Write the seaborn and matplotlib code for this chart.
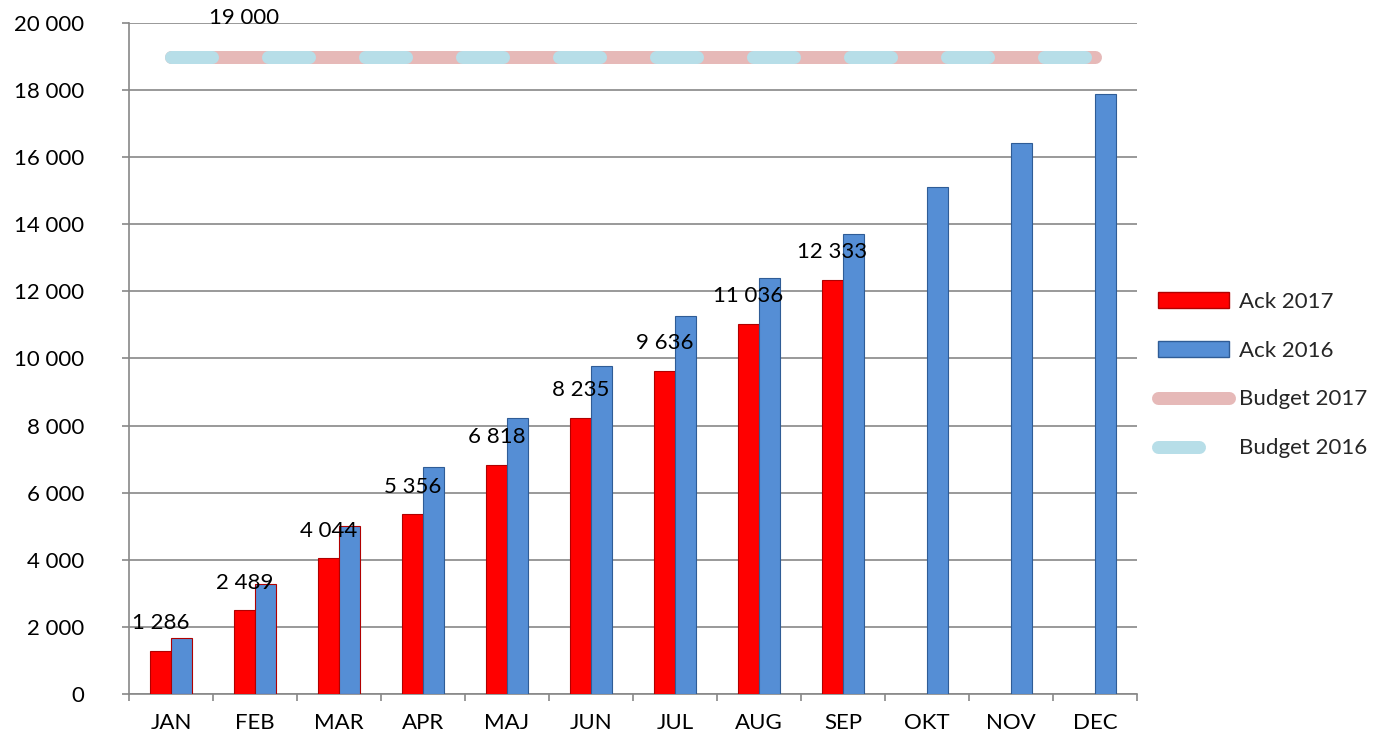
import numpy as np
import pandas as pd
import matplotlib
matplotlib.use("Agg")
import matplotlib.pyplot as plt
import seaborn as sns
from matplotlib.ticker import FuncFormatter, FixedLocator
from matplotlib.patches import Patch
from matplotlib.lines import Line2D

months = ["JAN", "FEB", "MAR", "APR", "MAJ", "JUN", "JUL", "AUG", "SEP", "OKT", "NOV", "DEC"]
ack_2017 = [1286, 2489, 4044, 5356, 6818, 8235, 9636, 11036, 12333, np.nan, np.nan, np.nan]
ack_2016 = [1680, 3280, 5010, 6760, 8220, 9780, 11270, 12410, 13700, 15100, 16430, 17870]
budget_2017 = [19000] * 12
budget_2016 = [19000] * 12

sns.set_theme(style="white")
plt.rcParams["font.family"] = ["Lato", "DejaVu Sans"]
FS = 16

df = pd.DataFrame({
    "month": months * 2,
    "value": ack_2017 + ack_2016,
    "series": ["Ack 2017"] * 12 + ["Ack 2016"] * 12,
})

fig = plt.figure(figsize=(13.78, 7.43), dpi=100)
ax = fig.add_axes([129 / 1378, 1 - 694 / 743, (1137 - 129) / 1378, (694 - 23) / 743])

red = "#FF0000"
blue = "#558ED5"
sns.barplot(data=df, x="month", y="value", hue="series", order=months,
            hue_order=["Ack 2017", "Ack 2016"],
            palette={"Ack 2017": red, "Ack 2016": blue},
            width=0.5, saturation=1, legend=False, ax=ax, zorder=3)
for p, ec in zip(ax.patches, ["#B00000"] * 12 + ["#2F5C96"] * 12):
    p.set_edgecolor(ec)
    p.set_linewidth(0.8)

x = np.arange(12)
lw_px = 13
lw = lw_px * 0.72
sns.lineplot(x=x, y=budget_2017, ax=ax, color="#E6B9B8", linewidth=lw, zorder=4,
             solid_capstyle="round")
sns.lineplot(x=x, y=budget_2016, ax=ax, color="#B7DEE8", linewidth=lw, zorder=5)
line16 = ax.lines[-1]
line16.set_dashes((41 / lw_px, 56 / lw_px))
line16.set_dash_capstyle("round")

# data labels for Ack 2017
for i, v in enumerate(ack_2017):
    if not np.isnan(v):
        ax.annotate(f"{int(v):,}".replace(",", " "), xy=(i - 0.125, v),
                    xytext=(0, 20), textcoords="offset points",
                    ha="center", va="center", fontsize=FS, color="black", zorder=6)
ax.annotate(f"{budget_2017[1]:,}".replace(",", " "), xy=(1 - 0.125, budget_2017[1]),
            xytext=(0, 28), textcoords="offset points", ha="center", va="center",
            fontsize=FS, color="black", annotation_clip=False, zorder=6)

ax.set_xlim(-0.5, 11.5)
ax.set_ylim(0, 20000)
ax.set_yticks(np.arange(0, 20001, 2000))
ax.yaxis.set_major_formatter(FuncFormatter(lambda v, _: f"{int(v):,}".replace(",", " ")))
ax.set_xlabel("")
ax.set_ylabel("")

grid_c = "#888888"
ax.yaxis.grid(True, color=grid_c, linewidth=1.2, zorder=0)
ax.set_axisbelow(True)
for s in ["top", "right"]:
    ax.spines[s].set_visible(False)
for s in ["left", "bottom"]:
    ax.spines[s].set_color(grid_c)
    ax.spines[s].set_linewidth(1.2)

ax.xaxis.set_minor_locator(FixedLocator(np.arange(-0.5, 12, 1)))
ax.tick_params(axis="x", which="major", length=0, pad=14, labelsize=FS, labelcolor="black")
ax.tick_params(axis="x", which="minor", length=5, color=grid_c, width=1.2, direction="out", bottom=True)
ax.tick_params(axis="y", which="major", length=5, color=grid_c, width=1.2, direction="out",
               pad=27, labelsize=FS, labelcolor="black", left=True)

handles = [
    Patch(facecolor=red, edgecolor="#B00000", label="Ack 2017"),
    Patch(facecolor=blue, edgecolor="#2F5C96", label="Ack 2016"),
    Line2D([0], [0], color="#E6B9B8", linewidth=lw, solid_capstyle="round", label="Budget 2017"),
    Line2D([0], [0], color="#B7DEE8", linewidth=lw, dashes=(41 / lw_px, 56 / lw_px),
           dash_capstyle="round", label="Budget 2016"),
]
leg = fig.legend(handles=handles, loc="center left", bbox_to_anchor=(1158 / 1378, 1 - 375 / 743),
                 frameon=False, fontsize=FS, handlelength=3.2, handleheight=0.7,
                 labelspacing=1.3, handletextpad=0.45, borderaxespad=0, borderpad=0)

fig.savefig("out.png", dpi=100)
